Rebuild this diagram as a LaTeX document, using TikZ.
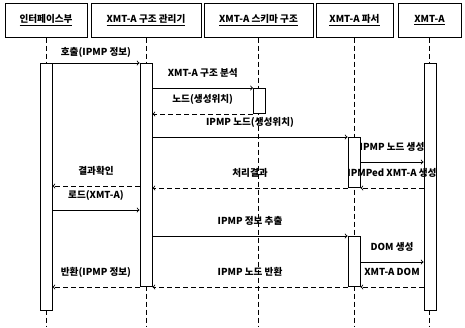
\documentclass[tikz,border=0pt]{standalone}
\usepackage{fontspec}
\setmainfont{Noto Sans CJK KR}

\tikzset{
  obj/.style={draw, line width=1pt, minimum height=34pt, inner sep=0pt},
  life/.style={line width=1pt, dash pattern=on 5pt off 3pt},
  bar/.style={draw, fill=white, line width=1pt, minimum width=12pt, inner sep=0pt, anchor=north},
  call/.style={->, line width=0.9pt},
  reply/.style={->, line width=0.9pt, dash pattern=on 5pt off 3pt},
  lbl/.style={midway, yshift=15pt, inner sep=0pt}
}

\begin{document}
\begin{tikzpicture}[x=1pt,y=-1pt,font=\fontsize{9.6}{11}\selectfont\bfseries]
        \useasboundingbox (0,0) rectangle (465,327);
        % objects
        \node[obj, minimum width=82pt]  (ui)  at (46,20)    {\underline{인터페이스부}};
        \node[obj, minimum width=110pt] (mgr) at (146,20)   {\underline{XMT-A 구조 관리기}};
        \node[obj, minimum width=109pt] (sch) at (258.5,20) {\underline{XMT-A 스키마 구조}};
        \node[obj, minimum width=77pt]  (prs) at (354.5,20) {\underline{XMT-A 파서}};
        \node[obj, minimum width=63pt]  (xa)  at (429.5,20) {\underline{XMT-A}};
        \foreach \o in {ui,mgr,sch,prs,xa}
          \draw[life] (\o.south) -- (\o.south |- 0,327);
        % activations
        \node[bar, minimum height=247pt] (a1)  at (46,63)    {};
        \node[bar, minimum height=223pt] (a2)  at (146,63)   {};
        \node[bar, minimum height=25pt]  (a3)  at (259.5,88) {};
        \node[bar, minimum height=50pt]  (a4)  at (354,137)  {};
        \node[bar, minimum height=50pt]  (a4b) at (354,236)  {};
        \node[bar, minimum height=247pt] (a5)  at (430,63)   {};
        % messages
        \draw[call] (a1.east |- 0,63) -- (a2.west |- 0,63)
          node[midway, yshift=11pt, inner sep=0pt] (l1) {호출(IPMP 정보)};
        \draw[call] (a2.east |- a3.north) -- (a3.west |- a3.north)
          node[lbl] (l2) {XMT-A 구조 분석};
        \draw[reply] (a3.south west) -- (a2.east |- a3.south)
          node[lbl] (l3) {노드(생성위치)};
        \draw[call] (a2.east |- a4.north) -- (a4.north west)
          node[lbl] (l4) {IPMP 노드(생성위치)};
        \draw[call] (a4.east |- 0,162) -- (a5.west |- 0,162)
          node[lbl] (l5) {IPMP 노드 생성};
        \draw[reply] (a5.west |- a4.south) -- (a4.south east)
          node[lbl] (l6) {IPMPed XMT-A 생성};
        \draw[reply] (a4.south west) -- (a2.east |- a4.south)
          node[lbl] (l7) {처리결과};
        \draw[reply] (a2.west |- 0,186) -- (a1.east |- 0,186)
          node[lbl] (l8) {결과확인};
        \draw[call] (a1.east |- 0,210) -- (a2.west |- 0,210)
          node[lbl] (l9) {로드(XMT-A)};
        \draw[call] (a2.east |- a4b.north) -- (a4b.north west)
          node[lbl] (l10) {IPMP 정보 추출};
        \draw[call] (a4b.east |- 0,262) -- (a5.west |- 0,262)
          node[lbl] (l11) {DOM 생성};
        \draw[reply] (a5.west |- a4b.south) -- (a4b.south east)
          node[lbl] (l12) {XMT-A DOM};
        \draw[reply] (a4b.south west) -- (a2.east |- a4b.south)
          node[lbl] (l13) {IPMP 노드 반환};
        \draw[reply] (a2.south west) -- (a1.east |- a2.south)
          node[lbl] (l14) {반환(IPMP 정보)};
      \end{tikzpicture}
\end{document}
